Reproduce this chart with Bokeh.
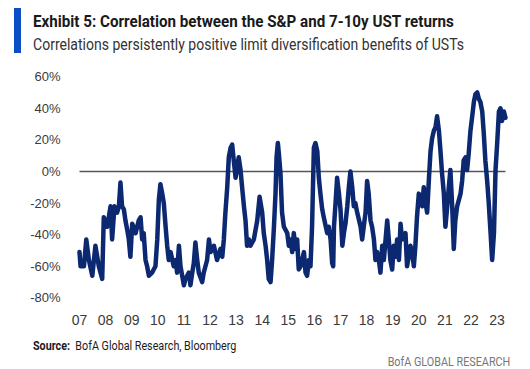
import html
from bokeh.plotting import figure
from bokeh.layouts import column
from bokeh.models import Range1d, FixedTicker, Div
from bokeh.embed import file_html
from bokeh.resources import INLINE

# ---- data (decimal year, correlation in %) ----
years = [2007.00, 2007.04, 2007.17, 2007.26, 2007.36, 2007.49, 2007.61, 2007.74, 2007.87, 2007.93,
         2008.06, 2008.19, 2008.25, 2008.34, 2008.44, 2008.51, 2008.57, 2008.63, 2008.70, 2008.76,
         2008.83, 2008.89, 2008.95, 2009.02, 2009.15, 2009.27, 2009.34, 2009.40, 2009.46, 2009.53,
         2009.59, 2009.66, 2009.78, 2009.91, 2009.98, 2010.04, 2010.10, 2010.17, 2010.23, 2010.30,
         2010.36, 2010.42, 2010.49, 2010.61, 2010.68, 2010.74, 2010.81, 2010.87, 2011.00, 2011.06,
         2011.19, 2011.25, 2011.32, 2011.38, 2011.44, 2011.51, 2011.57, 2011.70, 2011.76, 2011.89,
         2011.96, 2012.02, 2012.15, 2012.27, 2012.40, 2012.47, 2012.53, 2012.59, 2012.66, 2012.72,
         2012.79, 2012.85, 2012.91, 2012.98, 2013.10, 2013.17, 2013.23, 2013.30, 2013.36, 2013.42,
         2013.49, 2013.55, 2013.68, 2013.81, 2013.90, 2014.00, 2014.06, 2014.13, 2014.19, 2014.25,
         2014.32, 2014.38, 2014.45, 2014.51, 2014.55, 2014.60, 2014.64, 2014.70, 2014.76, 2014.83,
         2014.96, 2015.02, 2015.08, 2015.15, 2015.21, 2015.28, 2015.34, 2015.40, 2015.47, 2015.60,
         2015.66, 2015.72, 2015.79, 2015.85, 2015.91, 2015.98, 2016.04, 2016.11, 2016.17, 2016.23,
         2016.30, 2016.36, 2016.49, 2016.55, 2016.62, 2016.68, 2016.72, 2016.75, 2016.81, 2016.87,
         2016.94, 2017.00, 2017.07, 2017.13, 2017.19, 2017.26, 2017.32, 2017.38, 2017.45, 2017.51,
         2017.57, 2017.64, 2017.77, 2017.83, 2017.89, 2017.96, 2018.02, 2018.08, 2018.15, 2018.21,
         2018.28, 2018.34, 2018.40, 2018.47, 2018.53, 2018.60, 2018.66, 2018.79, 2018.85, 2018.91,
         2018.98, 2019.04, 2019.11, 2019.17, 2019.24, 2019.30, 2019.36, 2019.49, 2019.55, 2019.68,
         2019.74, 2019.81, 2019.87, 2019.93, 2020.00, 2020.07, 2020.13, 2020.19, 2020.26, 2020.32,
         2020.39, 2020.45, 2020.51, 2020.58, 2020.64, 2020.70, 2020.77, 2020.83, 2020.89, 2020.96,
         2021.02, 2021.09, 2021.15, 2021.21, 2021.28, 2021.34, 2021.40, 2021.47, 2021.60, 2021.66,
         2021.72, 2021.79, 2021.85, 2021.91, 2021.98, 2022.04, 2022.11, 2022.17, 2022.24, 2022.30,
         2022.36, 2022.43, 2022.49, 2022.55, 2022.62, 2022.68, 2022.75, 2022.81, 2022.88, 2022.94,
         2023.00, 2023.07, 2023.13, 2023.19, 2023.26, 2023.32]
corr = [-51, -60, -60, -43, -56, -66, -47, -60, -68, -29,
        -35, -22, -43, -22, -26, -22, -7, -22, -24, -31,
        -37, -43, -54, -33, -39, -31, -29, -43, -39, -56,
        -60, -66, -64, -60, -43, -18, -8, -14, -20, -35,
        -47, -56, -51, -60, -56, -64, -47, -60, -72, -68,
        -64, -72, -64, -58, -45, -56, -64, -70, -64, -56,
        -43, -51, -47, -56, -49, -54, -43, -26, -10, 9,
        15, 17, 7, -4, 9, 1, -10, -22, -31, -47,
        -43, -47, -43, -31, -16, -26, -39, -47, -56, -68,
        -70, -56, -35, -14, 9, 18, 11, -1, -26, -35,
        -39, -47, -43, -51, -39, -49, -43, -62, -60, -51,
        -64, -66, -56, -60, -35, 15, 18, 13, -4, -14,
        -24, -29, -39, -35, -43, -58, -60, -35, -20, -4,
        -14, -24, -47, -39, -33, -22, -10, 0, -10, -22,
        -20, -26, -35, -43, -35, -26, -6, -14, -31, -35,
        -43, -56, -51, -56, -64, -47, -56, -31, -43, -56,
        -62, -47, -54, -43, -56, -33, -43, -39, -60, -47,
        -51, -60, -47, -29, -14, -18, -22, -10, -20, -26,
        -4, 13, 21, 26, 28, 35, 26, 13, -1, -14,
        -35, -22, -10, 1, -22, -49, -31, -22, -14, -6,
        7, 9, 1, 11, 26, 34, 44, 49, 50, 46,
        44, 38, 24, 7, -6, -20, -39, -56, -39, 1,
        17, 38, 40, 32, 38, 34]

tick_years = list(range(2007, 2024))
tick_labels = ["07", "08", "09", "10", "11", "12", "13", "14", "15", "16",
               "17", "18", "19", "20", "21", "22", "23"]
y_ticks = [-80, -60, -40, -20, 0, 20, 40, 60]

title_text = "Exhibit 5: Correlation between the S&P and 7-10y UST returns"
subtitle_text = "Correlations persistently positive limit diversification benefits of USTs"
source_label = "Source:"
source_text = "BofA Global Research, Bloomberg"
brand_text = "BofA GLOBAL RESEARCH"

# ---- layout, in pixels from the top-left of the picture ----
W = 530
HEAD_H = 58
MAIN_BOTTOM = 332
FOOT_H = 369 - MAIN_BOTTOM
FRAME_L, FRAME_R, FRAME_T, FRAME_B = 72, 512, 68, 304
ZERO_Y = 171
px_per_year = 26.1
px_per_pct = 1.58

E = html.escape


def txt(s, left, top, size, weight="normal", color="#222", scale=1.0, align="left"):
    origin = "0 0" if align == "left" else "100% 0"
    pos = f"left:{left}px;" if align == "left" else f"right:{W - left}px;"
    return (f'<div style="position:absolute;{pos}top:{top}px;font-family:Roboto,sans-serif;'
            f'font-size:{size}px;line-height:{size}px;font-weight:{weight};color:{color};'
            f'white-space:nowrap;transform:scaleX({scale});transform-origin:{origin};">{s}</div>')


head_html = (f'<div style="position:relative;width:{W}px;height:{HEAD_H}px;overflow:hidden;">'
             '<div style="position:absolute;left:14px;top:8px;width:7px;height:45px;'
             'background:#0a4fc6;"></div>'
             + txt(E(title_text), 33, 14, 16.5, "bold", "#1a1a1a", 0.92)
             + txt(E(subtitle_text), 33, 37, 16.5, "normal", "#333333", 0.85)
             + '</div>')
head = Div(text=head_html, width=W, height=HEAD_H, margin=(0, 0, 0, 0))

x0 = 2007 - (79 - FRAME_L) / px_per_year
x1 = x0 + (FRAME_R - FRAME_L) / px_per_year
y1 = (ZERO_Y - FRAME_T) / px_per_pct
y0 = (ZERO_Y - FRAME_B) / px_per_pct

p = figure(width=W, height=MAIN_BOTTOM - HEAD_H, output_backend="svg", toolbar_location=None,
           x_range=Range1d(x0, x1), y_range=Range1d(y0, y1),
           min_border_left=FRAME_L, min_border_right=W - FRAME_R,
           min_border_top=FRAME_T - HEAD_H, min_border_bottom=MAIN_BOTTOM - FRAME_B,
           margin=(0, 0, 0, 0))
p.outline_line_color = None
p.grid.grid_line_color = None

for ax in (p.xaxis[0], p.yaxis[0]):
    ax.axis_line_color = None
    ax.major_tick_line_color = None
    ax.minor_tick_line_color = None

p.xaxis.ticker = FixedTicker(ticks=tick_years)
p.xaxis.major_label_overrides = {y: l for y, l in zip(tick_years, tick_labels)}
p.xaxis.major_label_text_font = "Liberation Sans"
p.xaxis.major_label_text_font_size = "14px"
p.xaxis.major_label_text_color = "#3a3a3a"
p.xaxis.major_label_standoff = 4

p.yaxis.ticker = FixedTicker(ticks=y_ticks)
p.yaxis.major_label_overrides = {v: f"{v}%" for v in y_ticks}
p.yaxis.major_label_text_font = "Liberation Sans"
p.yaxis.major_label_text_font_size = "13px"
p.yaxis.major_label_text_color = "#3a3a3a"
p.yaxis.major_label_standoff = 6

p.segment(x0=[years[0]], y0=[0], x1=[years[-1]], y1=[0], line_color="#555555", line_width=1.5)
p.line(years, corr, line_color="#0b2870", line_width=4.5, line_join="round", line_cap="round")

foot_html = (f'<div style="position:relative;width:{W}px;height:{FOOT_H}px;overflow:hidden;">'
             + txt(f'<b>{E(source_label)}</b>&nbsp; {E(source_text)}', 33, 8, 12.5,
                   "normal", "#1a1a1a", 0.86)
             + txt(E(brand_text), 510, 24, 12, "normal", "#777777", 0.9, align="right")
             + '</div>')
foot = Div(text=foot_html, width=W, height=FOOT_H, margin=(0, 0, 0, 0))

layout = column(head, p, foot, spacing=0)
open("out.html", "w").write(file_html(layout, INLINE))
